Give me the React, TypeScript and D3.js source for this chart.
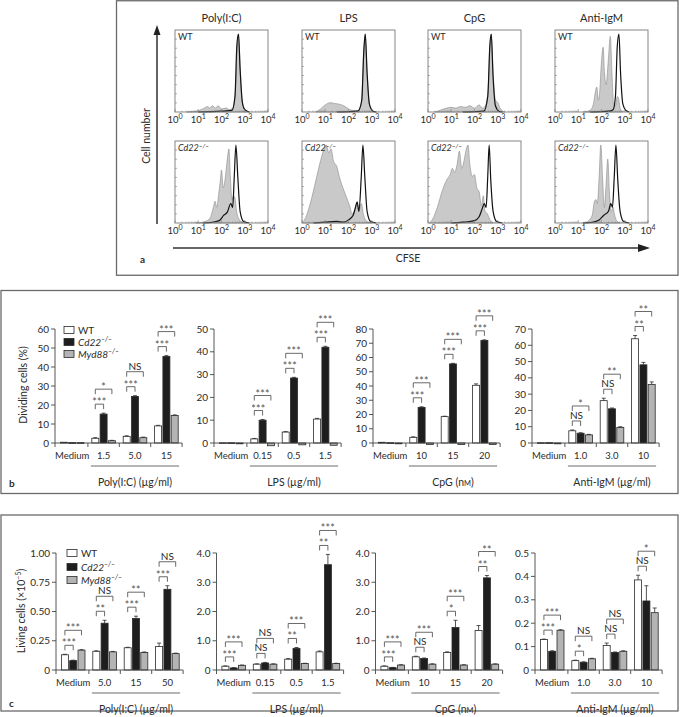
import React from "react";
import * as d3 from "d3";

const FONT = "Lato, 'Open Sans', 'DejaVu Sans', sans-serif";
const TXT = "#2b2b2b";

type Pt = [number, number];

// ---------- Panel a data (log10 CFSE, relative cell number) ----------
const stimuli = ["Poly(I:C)", "LPS", "CpG", "Anti-IgM"];
const decades = [0, 1, 2, 3, 4];

const wtGray: Pt[][] = [
  [[0.5,0],[0.9,0.01],[1.2,0.04],[1.4,0.07],[1.5,0.05],[1.6,0.08],[1.75,0.05],[1.85,0.08],[2.0,0.04],[2.2,0.05],[2.35,0.03],[2.5,0.06],[2.6,0.3],[2.68,0.9],[2.73,1.0],[2.8,0.6],[2.88,0.15],[3.0,0.04],[3.2,0]],
  [[0.6,0],[0.8,0.04],[1.0,0.09],[1.2,0.12],[1.4,0.11],[1.6,0.1],[1.8,0.08],[2.0,0.04],[2.2,0.02],[2.4,0.02],[2.55,0.1],[2.65,0.7],[2.72,1.0],[2.8,0.5],[2.9,0.1],[3.05,0.02],[3.2,0]],
  [[0.3,0],[0.5,0.02],[0.8,0.05],[1.0,0.06],[1.2,0.05],[1.4,0.07],[1.6,0.06],[1.8,0.08],[2.0,0.05],[2.2,0.09],[2.35,0.05],[2.5,0.1],[2.6,0.35],[2.67,0.9],[2.72,1.0],[2.8,0.5],[2.9,0.15],[3.0,0.12],[3.1,0.05],[3.3,0]],
  [[1.2,0],[1.5,0.02],[1.65,0.1],[1.75,0.28],[1.8,0.32],[1.86,0.15],[1.92,0.25],[2.0,0.65],[2.07,0.83],[2.13,0.5],[2.2,0.35],[2.3,0.7],[2.38,0.97],[2.45,0.5],[2.52,0.1],[2.6,0.08],[2.68,0.2],[2.73,0.18],[2.8,0.05],[2.9,0]],
];
const wtBlack: Pt[][] = [
  [[1.0,0],[2.0,0.01],[2.45,0.02],[2.58,0.2],[2.66,0.85],[2.73,1.0],[2.8,0.55],[2.9,0.12],[3.0,0.03],[3.2,0]],
  [[1.5,0],[2.4,0.01],[2.57,0.15],[2.66,0.8],[2.72,1.0],[2.8,0.5],[2.9,0.1],[3.05,0.01],[3.2,0]],
  [[1.5,0],[2.4,0.01],[2.57,0.2],[2.66,0.85],[2.72,1.0],[2.8,0.45],[2.9,0.08],[3.05,0.01],[3.2,0]],
  [[1.5,0],[2.3,0.01],[2.5,0.03],[2.6,0.2],[2.68,0.85],[2.75,1.0],[2.82,0.5],[2.92,0.1],[3.05,0.02],[3.2,0]],
];
const cdGray: Pt[][] = [
  [[0.9,0],[1.3,0.02],[1.5,0.06],[1.65,0.2],[1.72,0.28],[1.8,0.2],[1.87,0.35],[1.95,0.55],[2.0,0.68],[2.07,0.45],[2.15,0.55],[2.25,0.82],[2.32,0.95],[2.38,0.6],[2.45,0.3],[2.52,0.35],[2.58,0.32],[2.65,0.15],[2.75,0.05],[2.9,0.01],[3.1,0]],
  [[0.02,0],[0.2,0.1],[0.4,0.3],[0.6,0.55],[0.8,0.8],[0.95,0.95],[1.05,1.0],[1.15,0.9],[1.25,0.95],[1.35,0.8],[1.5,0.72],[1.6,0.6],[1.7,0.5],[1.8,0.42],[1.95,0.3],[2.05,0.22],[2.15,0.12],[2.25,0.15],[2.35,0.25],[2.45,0.15],[2.55,0.25],[2.65,0.1],[2.8,0.02],[3.0,0]],
  [[0.05,0],[0.2,0.05],[0.4,0.2],[0.6,0.4],[0.8,0.55],[0.95,0.62],[1.05,0.7],[1.15,0.65],[1.25,0.75],[1.35,0.92],[1.45,0.7],[1.55,0.8],[1.65,0.95],[1.72,1.0],[1.8,0.75],[1.9,0.6],[2.0,0.62],[2.1,0.45],[2.2,0.4],[2.3,0.22],[2.38,0.35],[2.45,0.15],[2.55,0.12],[2.65,0.05],[2.8,0]],
  [[1.2,0],[1.45,0.03],[1.6,0.1],[1.7,0.28],[1.76,0.3],[1.82,0.25],[1.9,0.6],[1.97,1.0],[2.05,0.55],[2.12,0.2],[2.2,0.5],[2.27,0.82],[2.34,0.4],[2.42,0.15],[2.5,0.2],[2.55,0.12],[2.65,0.03],[2.8,0]],
];
const cdBlack: Pt[][] = [
  [[1.2,0],[1.6,0.01],[1.9,0.03],[2.1,0.1],[2.25,0.14],[2.4,0.25],[2.48,0.2],[2.55,0.6],[2.62,1.0],[2.7,0.6],[2.8,0.15],[2.95,0.02],[3.2,0]],
  [[0.5,0],[1.0,0.01],[1.5,0.02],[1.8,0.01],[2.0,0.04],[2.2,0.1],[2.3,0.2],[2.37,0.27],[2.45,0.15],[2.55,0.6],[2.62,1.0],[2.7,0.6],[2.8,0.15],[2.95,0.02],[3.2,0]],
  [[1.0,0],[1.5,0.01],[2.0,0.03],[2.2,0.08],[2.35,0.2],[2.42,0.25],[2.5,0.2],[2.57,0.6],[2.63,1.0],[2.7,0.55],[2.8,0.15],[2.95,0.02],[3.2,0]],
  [[1.2,0],[1.6,0.01],[1.9,0.04],[2.1,0.1],[2.3,0.15],[2.4,0.25],[2.47,0.2],[2.55,0.6],[2.62,1.0],[2.7,0.55],[2.8,0.15],[2.95,0.02],[3.2,0]],
];

// ---------- Panel b data: dividing cells (%) ----------
const bCats = [
  ["Medium", "1.5", "5.0", "15"],
  ["Medium", "0.15", "0.5", "1.5"],
  ["Medium", "10", "15", "20"],
  ["Medium", "1.0", "3.0", "10"],
];
const bWT = [[0.4, 2.5, 3.5, 9], [0.1, 1.8, 4.8, 10.5], [0.5, 4, 18.5, 40.5], [0.2, 7.5, 26, 64]];
const bCd22 = [[0.2, 15.2, 24.5, 45.5], [0.1, 10, 28.5, 42], [0.2, 25, 55.5, 72], [0.2, 6, 21, 48]];
const bMyd88 = [[0.2, 1.2, 2.8, 14.5], [0, -1.2, -0.8, -1.0], [0, -1, -1, -1], [0, 5, 9.5, 36]];
const bErrWT = [[0, 0.3, 0.3, 0.3], [0, 0.2, 0.2, 0.3], [0, 0.3, 0.3, 1.0], [0, 0.5, 1.5, 2]];
const bErrCd22 = [[0, 0.5, 0.4, 0.5], [0, 0.3, 0.3, 0.4], [0, 0.4, 0.4, 0.4], [0, 0.3, 0.5, 1.5]];
const bErrMyd88 = [[0, 0.2, 0.3, 0.3], [0, 0, 0, 0], [0, 0, 0, 0], [0, 0.3, 0.5, 1.5]];
const bSig: (string[] | null)[][] = [
  [null, ["***", "*"], ["***", "NS"], ["***", "***"]],
  [null, ["***", "***"], ["***", "***"], ["***", "***"]],
  [null, ["***", "***"], ["***", "***"], ["***", "***"]],
  [null, ["NS", "*"], ["NS", "**"], ["**", "**"]],
];
const bMax = [60, 50, 80, 70];
const bTicks = [
  ["0", "10", "20", "30", "40", "50", "60"],
  ["0", "10", "20", "30", "40", "50"],
  ["0", "10", "20", "30", "40", "50", "60", "70", "80"],
  ["0", "10", "20", "30", "40", "50", "60", "70"],
];

// ---------- Panel c data: living cells (x10^-5) ----------
const cCats = [
  ["Medium", "5.0", "15", "50"],
  ["Medium", "0.15", "0.5", "1.5"],
  ["Medium", "10", "15", "20"],
  ["Medium", "1.0", "3.0", "10"],
];
const cWT = [[0.13, 0.16, 0.19, 0.2], [0.13, 0.2, 0.37, 0.62], [0.13, 0.45, 0.6, 1.35], [0.13, 0.04, 0.105, 0.385]];
const cCd22 = [[0.08, 0.4, 0.44, 0.69], [0.07, 0.24, 0.74, 3.6], [0.08, 0.39, 1.45, 3.15], [0.08, 0.033, 0.075, 0.295]];
const cMyd88 = [[0.17, 0.155, 0.15, 0.14], [0.16, 0.2, 0.22, 0.22], [0.17, 0.2, 0.17, 0.2], [0.17, 0.048, 0.08, 0.245]];
const cErrWT = [[0.004, 0.004, 0.004, 0.03], [0.01, 0.01, 0.02, 0.03], [0.01, 0.02, 0.02, 0.17], [0.002, 0.002, 0.01, 0.02]];
const cErrCd22 = [[0.004, 0.025, 0.02, 0.03], [0.01, 0.02, 0.03, 0.35], [0.01, 0.02, 0.25, 0.08], [0.002, 0.002, 0.002, 0.065]];
const cErrMyd88 = [[0.004, 0.004, 0.004, 0.004], [0.01, 0.01, 0.01, 0.01], [0.01, 0.01, 0.01, 0.01], [0.002, 0.002, 0.002, 0.02]];
const cSig: (string[] | null)[][] = [
  [["***", "***"], ["**", "NS"], ["***", "**"], ["***", "NS"]],
  [["***", "***"], ["NS", "NS"], ["**", "***"], ["**", "***"]],
  [["***", "***"], ["NS", "***"], ["*", "***"], ["**", "**"]],
  [["***", "***"], ["*", "NS"], ["NS", "NS"], ["NS", "*"]],
];
const cMax = [1.0, 4.0, 4.0, 0.5];
const cTicks = [
  ["0", "0.25", "0.50", "0.75", "1.00"],
  ["0", "1.0", "2.0", "3.0", "4.0"],
  ["0", "1.0", "2.0", "3.0", "4.0"],
  ["0", "0.1", "0.2", "0.3", "0.4", "0.5"],
];

const units = ["µg/ml", "µg/ml", "nM", "µg/ml"];
const legendNames = ["WT", "Cd22", "Myd88"];
const FILLS = ["#ffffff", "#1e1e1e", "#b4b4b4"];

// ---------- Histogram ----------
function Histogram({ left, top, w, h, gray, black, geno }: any) {
  const x = d3.scaleLinear().domain([0, 4]).range([left, left + w]);
  const y = d3.scaleLinear().domain([0, 1]).range([top + h, top + 4]);
  const area = d3.area<Pt>().x(d => x(d[0])).y0(top + h).y1(d => y(d[1])).curve(d3.curveMonotoneX);
  const line = d3.line<Pt>().x(d => x(d[0])).y(d => y(d[1])).curve(d3.curveMonotoneX);
  const minor: number[] = [];
  for (let dcd = 0; dcd < 4; dcd++) for (let m = 2; m <= 9; m++) minor.push(dcd + Math.log10(m));
  const lt = d3.range(1, 9).map(i => top + (h * i) / 9);
  return (
    <g>
      <path d={area(gray) || ""} fill="#c9c9c9" stroke="#8a8a8a" strokeWidth={0.6} />
      <path d={line(black) || ""} fill="none" stroke="#111" strokeWidth={1.2} />
      <rect x={left} y={top} width={w} height={h} fill="none" stroke="#7a7a7a" strokeWidth={0.9} />
      {lt.map((t, i) => <line key={"l" + i} x1={left} x2={left + 2} y1={t} y2={t} stroke="#7a7a7a" strokeWidth={0.6} />)}
      {minor.map((m, i) => <line key={"m" + i} x1={x(m)} x2={x(m)} y1={top + h} y2={top + h - 1.5} stroke="#7a7a7a" strokeWidth={0.5} />)}
      {decades.map(dv => <line key={"d" + dv} x1={x(dv)} x2={x(dv)} y1={top + h} y2={top + h - 3} stroke="#7a7a7a" strokeWidth={0.6} />)}
      {decades.map(dv => (
        <text key={"t" + dv} x={x(dv)} y={top + h + 11} textAnchor="middle" fontSize={9.5} fill={TXT}>
          10<tspan dy={-4} fontSize={7}>{dv}</tspan>
        </text>
      ))}
      <text x={left + 3} y={top + 10} fontSize={9} fill={TXT} fontStyle={geno === "WT" ? "normal" : "italic"}>
        {geno === "WT" ? "WT" : <>Cd22<tspan dy={-3.5} fontSize={6.5}>–/–</tspan></>}
      </text>
    </g>
  );
}

// ---------- Bar chart ----------
const STEP = 31.4;
function BarChart({ axisX, yTop, y0, max, tickLabels, cats, vals, errs, sig, stim, unit, labY }: any) {
  const bandStart = axisX + 1.5;
  const x = d3.scaleBand<string>().domain(cats).range([bandStart, bandStart + 4 * STEP]);
  const y = d3.scaleLinear().domain([0, max]).range([y0, yTop]);
  const offs = [-8.3, 0, 8.3];
  const bw = 7;
  const tickVals = d3.range(tickLabels.length).map((i: number) => (max * i) / (tickLabels.length - 1));
  const endX = bandStart + 4 * STEP;
  return (
    <g>
      {/* bars */}
      {cats.map((c: string, i: number) => {
        const cx = (x(c) as number) + x.bandwidth() / 2;
        return (
          <g key={c}>
            {[0, 1, 2].map(k => {
              const v = vals[k][i];
              const e = errs[k][i];
              const bx = cx + offs[k] - bw / 2;
              const yv = y(v);
              return (
                <g key={k}>
                  <rect x={bx} y={Math.min(yv, y(0))} width={bw} height={Math.max(Math.abs(y(0) - yv), 0.8)}
                    fill={FILLS[k]} stroke="#2a2a2a" strokeWidth={0.8} />
                  {e > 0 && v > 0 && (
                    <g stroke="#2a2a2a" strokeWidth={0.8}>
                      <line x1={cx + offs[k]} x2={cx + offs[k]} y1={yv} y2={y(v + e)} />
                      <line x1={cx + offs[k] - 2} x2={cx + offs[k] + 2} y1={y(v + e)} y2={y(v + e)} />
                    </g>
                  )}
                </g>
              );
            })}
          </g>
        );
      })}
      {/* significance brackets */}
      {cats.map((c: string, i: number) => {
        const s = sig[i];
        if (!s) return null;
        const cx = (x(c) as number) + x.bandwidth() / 2;
        const topPix = (k: number) => y(Math.max(vals[k][i] + errs[k][i], 0));
        const inner = Math.min(topPix(0), topPix(1)) - 9;
        const outer = Math.min(inner - 15, topPix(2) - 9);
        const lvls = [
          { yy: inner, x1: cx + offs[0], x2: cx + offs[1], t: s[0] },
          { yy: outer, x1: cx + offs[0], x2: cx + offs[2], t: s[1] },
        ];
        return (
          <g key={"s" + c}>
            {lvls.map((L, j) => (
              <g key={j}>
                <path d={`M${L.x1},${L.yy + 5}V${L.yy}H${L.x2}V${L.yy + 5}`} fill="none" stroke="#444" strokeWidth={0.8} />
                {L.t.startsWith("*") ? (
                  <text x={(L.x1 + L.x2) / 2} y={L.yy + 2} textAnchor="middle" fontSize={10.5} fill="#555" letterSpacing={0.3}>{L.t}</text>
                ) : (
                  <text x={(L.x1 + L.x2) / 2} y={L.yy - 2} textAnchor="middle" fontSize={10} fill={TXT}>{L.t}</text>
                )}
              </g>
            ))}
          </g>
        );
      })}
      {/* y axis */}
      <line x1={axisX} x2={axisX} y1={yTop} y2={y0 + 4} stroke="#444" strokeWidth={0.9} />
      {tickVals.map((tv: number, i: number) => (
        <g key={"yt" + i}>
          <line x1={axisX - 4} x2={axisX} y1={y(tv)} y2={y(tv)} stroke="#444" strokeWidth={0.9} />
          <text x={axisX - 6} y={y(tv) + 3.5} textAnchor="end" fontSize={10} fill={TXT}>{tickLabels[i]}</text>
        </g>
      ))}
      {/* x axis */}
      <line x1={axisX} x2={endX} y1={y0} y2={y0} stroke="#444" strokeWidth={0.9} />
      {[1, 2, 3, 4].map(i => (
        <line key={"xt" + i} x1={bandStart + i * STEP} x2={bandStart + i * STEP} y1={y0} y2={y0 + 4} stroke="#444" strokeWidth={0.9} />
      ))}
      {cats.map((c: string) => (
        <text key={"xl" + c} x={(x(c) as number) + x.bandwidth() / 2} y={labY} textAnchor="middle" fontSize={9.5} fill={TXT}>{c}</text>
      ))}
      <line x1={bandStart + STEP + 3} x2={endX - 3} y1={labY + 7} y2={labY + 7} stroke="#444" strokeWidth={0.8} />
      <text x={bandStart + 2.5 * STEP} y={labY + 27} textAnchor="middle" fontSize={10.5} fill={TXT}>
        {stim} (
        {unit === "nM" ? <>n<tspan fontSize={7.5}>M</tspan></> : unit}
        )
      </text>
    </g>
  );
}

function Legend({ x, ys }: { x: number; ys: number[] }) {
  return (
    <g>
      {legendNames.map((n, k) => (
        <g key={n}>
          <rect x={x} y={ys[k] - 3.5} width={10} height={7} fill={FILLS[k]} stroke="#2a2a2a" strokeWidth={0.8} />
          <text x={x + 14} y={ys[k] + 3.5} fontSize={10} fill={TXT} fontStyle={k === 0 ? "normal" : "italic"}>
            {n}
            {k > 0 && <tspan dy={-4} fontSize={7}>–/–</tspan>}
          </text>
        </g>
      ))}
    </g>
  );
}

const histLefts = [175, 302, 428, 555];
const bAxisX = [55, 214, 373, 532];
const cAxisX = [56, 216.5, 375.5, 535];

export default function App() {
  return (
    <svg width={680} height={717} style={{ position: "absolute", left: 0, top: 0, background: "#fff" }} fontFamily={FONT}>
      <rect width={680} height={717} fill="#fff" />
      {/* Panel boxes */}
      <rect x={116.5} y={0.75} width={561.5} height={274.5} fill="none" stroke="#6a6a6a" strokeWidth={1.3} />
      <rect x={1} y={290.5} width={677} height={203} fill="none" stroke="#6a6a6a" strokeWidth={1.3} />
      <rect x={1} y={515} width={677} height={196} fill="none" stroke="#6a6a6a" strokeWidth={1.3} />

      {/* Panel a */}
      {stimuli.map((s, i) => (
        <g key={s}>
          <text x={histLefts[i] + 46.5} y={22} textAnchor="middle" fontSize={11} fill={TXT}>{s}</text>
          <Histogram left={histLefts[i]} top={30} w={93} h={82} gray={wtGray[i]} black={wtBlack[i]} geno="WT" />
          <Histogram left={histLefts[i]} top={141} w={93} h={82} gray={cdGray[i]} black={cdBlack[i]} geno="Cd22" />
        </g>
      ))}
      {/* Cell number arrow */}
      <line x1={157} x2={157} y1={224} y2={34} stroke="#222" strokeWidth={1.4} />
      <path d="M157,25 L153.5,35 L160.5,35 Z" fill="#222" />
      <text transform="translate(150,136) rotate(-90)" textAnchor="middle" fontSize={10.5} fill={TXT}>Cell number</text>
      {/* CFSE arrow */}
      <line x1={173} x2={640} y1={248} y2={248} stroke="#333" strokeWidth={1.6} />
      <path d="M650,248 L638,244 L638,252 Z" fill="#222" />
      <text x={408} y={262} textAnchor="middle" fontSize={10.5} fill={TXT}>CFSE</text>
      <text x={140} y={263} fontSize={10} fontWeight="bold" fill={TXT}>a</text>

      {/* Panel b */}
      {stimuli.map((s, i) => (
        <BarChart key={"b" + s} axisX={bAxisX[i]} yTop={329} y0={443} max={bMax[i]} tickLabels={bTicks[i]}
          cats={bCats[i]} vals={[bWT[i], bCd22[i], bMyd88[i]]} errs={[bErrWT[i], bErrCd22[i], bErrMyd88[i]]}
          sig={bSig[i]} stim={s} unit={units[i]} labY={459} />
      ))}
      <Legend x={64} ys={[330, 342, 354]} />
      <text transform="translate(27,385) rotate(-90)" textAnchor="middle" fontSize={10.5} fill={TXT}>Dividing cells (%)</text>
      <text x={9} y={487} fontSize={10} fontWeight="bold" fill={TXT}>b</text>

      {/* Panel c */}
      {stimuli.map((s, i) => (
        <BarChart key={"c" + s} axisX={cAxisX[i]} yTop={553} y0={670} max={cMax[i]} tickLabels={cTicks[i]}
          cats={cCats[i]} vals={[cWT[i], cCd22[i], cMyd88[i]]} errs={[cErrWT[i], cErrCd22[i], cErrMyd88[i]]}
          sig={cSig[i]} stim={s} unit={units[i]} labY={686} />
      ))}
      <Legend x={67} ys={[553, 567, 580]} />
      <text transform="translate(25,611) rotate(-90)" textAnchor="middle" fontSize={10.5} fill={TXT}>
        Living cells (×10<tspan dy={-4} fontSize={7}>–5</tspan><tspan dy={4}>)</tspan>
      </text>
      <text x={9} y={707} fontSize={10} fontWeight="bold" fill={TXT}>c</text>
    </svg>
  );
}
